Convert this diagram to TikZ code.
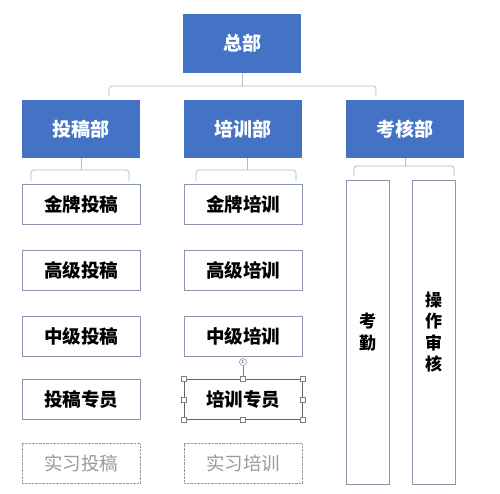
\documentclass[tikz,border=0pt]{standalone}
\usepackage{fontspec}
\setmainfont{Noto Sans CJK SC}
\definecolor{headblue}{HTML}{4472C4}
\definecolor{linkgray}{HTML}{AEBBD3}
\definecolor{boxgray}{HTML}{8A97AE}
\definecolor{dotgray}{HTML}{9A9A9A}
\begin{document}
\begin{tikzpicture}[x=1pt, y=-1pt, head/.style={fill=headblue, text=white, minimum width=118pt, minimum height=58pt, inner sep=0pt, font=\bfseries\fontsize{19}{21}\selectfont}]
  \tikzset{unit/.style={draw=boxgray, line width=0.9pt, fill=white, minimum width=118pt, minimum height=40pt, inner sep=0pt, font=\bfseries\fontsize{18.5}{20}\selectfont}}
  \tikzset{trainee/.style={draw=dotgray, densely dotted, minimum width=118pt, minimum height=40pt, inner sep=0pt, text=dotgray, font=\fontsize{18.5}{20}\selectfont}}
  \tikzset{column/.style={draw=boxgray, line width=0.9pt, minimum width=43pt, minimum height=304pt, inner sep=0pt, align=center, font=\bfseries\fontsize{17}{21.5}\selectfont}}
  \tikzset{link/.style={draw=linkgray, line width=0.8pt, rounded corners=3pt}}
  \tikzset{grip/.style={draw=gray, fill=white, line width=0.5pt, minimum size=5pt, inner sep=0pt}}
  \useasboundingbox (0,0) rectangle (500,493);
  % heads
  \node[head, minimum height=59pt] (hq) at (242,43.5) {总部};
  \node[head] (tg) at (81,129) {投稿部};
  \node[head] (px) at (243,129) {培训部};
  \node[head] (kh) at (405,129) {考核部};
  % units
  \node[unit] (tg1) at (81,204) {金牌投稿};
  \node[unit] (tg2) at (81,270) {高级投稿};
  \node[unit] (tg3) at (81,336.5) {中级投稿};
  \node[unit] (tg4) at (81,399.5) {投稿专员};
  \node[trainee] (tg5) at (81,463.5) {实习投稿};
  \node[unit] (px1) at (243,204) {金牌培训};
  \node[unit] (px2) at (243,270) {高级培训};
  \node[unit] (px3) at (243,336.5) {中级培训};
  \node[unit, draw=gray!80!black] (px4) at (243,399.5) {培训专员};
  \node[trainee] (px5) at (243,463.5) {实习培训};
  \node[column] (kq) at (367.5,332) {考\\勤};
  \node[column] (sh) at (433.5,332) {操\\作\\审\\核};
  % links
  \coordinate (b0) at (hq.south |- 0,86);
  \draw[link] (hq.south) -- (b0);
  \draw[link] (109,96) |- (b0) -| (376,96);
  \coordinate (b1) at (tg.south |- 0,170);
  \draw[link] (tg.south) -- (b1);
  \draw[link] (31,181) |- (b1) -| (129,181);
  \coordinate (b2) at (247,170);
  \draw[link] (px.south -| b2) -- (b2);
  \draw[link] (196,181) |- (b2) -| (296,181);
  \coordinate (b3) at (kh.south |- 0,166);
  \draw[link] (kh.south) -- (b3);
  \draw[link] (354,176) |- (b3) -| (454,176);
  % selection
  \node[draw=gray, circle, fill=white, line width=0.5pt, inner sep=0pt, minimum size=7pt, font=\fontsize{5}{5}\selectfont] (rot) at (243,362) {c};
  \draw[gray, line width=0.5pt] (rot) -- (px4.north);
  \foreach \a in {north west, north, north east, east, south east, south, south west, west}
    \node[grip] at (px4.\a) {};
\end{tikzpicture}
\end{document}
